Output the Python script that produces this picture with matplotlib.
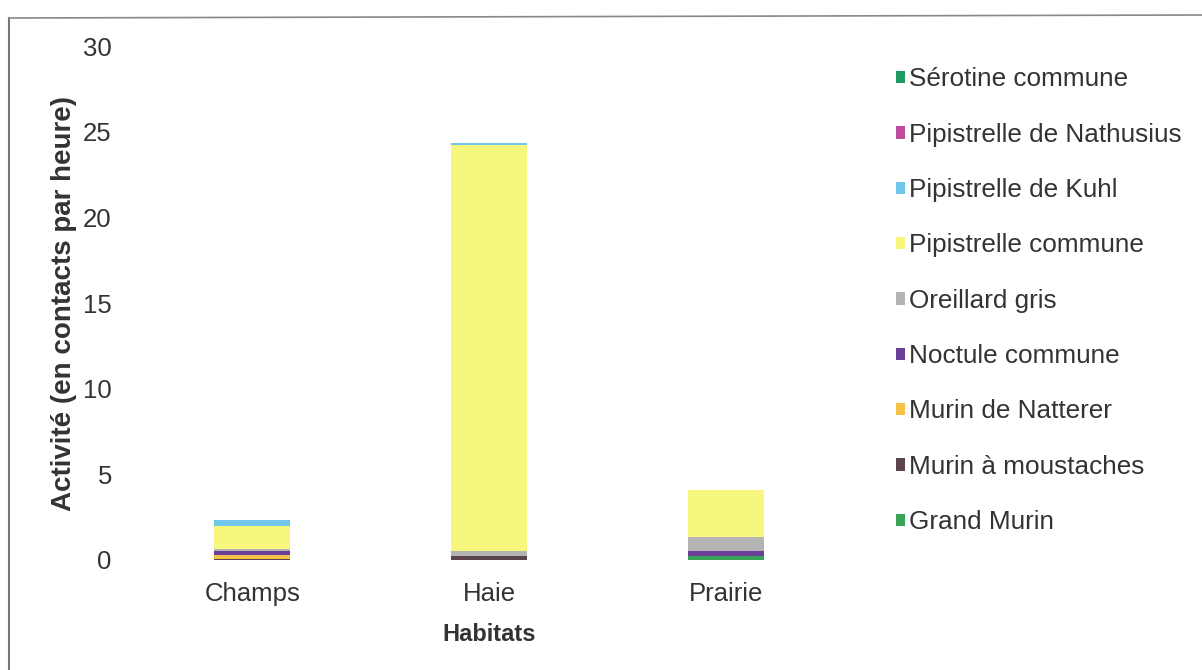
import matplotlib.pyplot as plt
from matplotlib.lines import Line2D
import numpy as np

plt.rcParams['font.family'] = ['Liberation Sans', 'DejaVu Sans']

habitats = ['Champs', 'Haie', 'Prairie']

# stacked from the bottom up
especes = ['Grand Murin', 'Murin à moustaches', 'Murin de Natterer',
           'Noctule commune', 'Oreillard gris', 'Pipistrelle commune',
           'Pipistrelle de Kuhl', 'Pipistrelle de Nathusius', 'Sérotine commune']

grand_murin = [0.0, 0.0, 0.25]
murin_moustaches = [0.05, 0.25, 0.0]
murin_natterer = [0.25, 0.0, 0.0]
noctule = [0.2, 0.0, 0.3]
oreillard = [0.15, 0.3, 0.82]
pip_commune = [1.35, 23.7, 2.73]
pip_kuhl = [0.32, 0.12, 0.0]
pip_nathusius = [0.0, 0.0, 0.0]
serotine = [0.0, 0.0, 0.0]

valeurs = [grand_murin, murin_moustaches, murin_natterer, noctule, oreillard,
           pip_commune, pip_kuhl, pip_nathusius, serotine]

couleurs = ['#3aa35a', '#5b4450', '#f4c247', '#6a3f98', '#b4b4b4',
            '#f6f77c', '#72c6ea', '#c04a9e', '#1e9a63']

fig = plt.figure(figsize=(12.02, 6.70), dpi=100)
ax = fig.add_axes([0.1115, 0.1642, 0.5907, 0.767])

x = np.arange(len(habitats))
bas = np.zeros(len(habitats))
barres = []
for nom, v, c in zip(especes, valeurs, couleurs):
    b = ax.bar(x, v, bottom=bas, width=0.32, color=c, label=nom, linewidth=0)
    barres.append(b)
    bas += np.array(v)

ax.set_xlim(-0.5, 2.5)
ax.set_ylim(0, 30)
ax.set_yticks([0, 5, 10, 15, 20, 25, 30])
ax.set_xticks(x)
ax.set_xticklabels(habitats)
ax.tick_params(axis='both', length=0, labelsize=18.5, colors='#333333')
ax.tick_params(axis='y', pad=16)
ax.tick_params(axis='x', pad=16)
for s in ax.spines.values():
    s.set_visible(False)

ax.set_xlabel('Habitats', fontsize=17, fontweight='bold', color='#333333', labelpad=12)
ax.set_ylabel('Activité (en contacts par heure)', fontsize=20, fontweight='bold',
              color='#333333', labelpad=4)

leg = ax.legend(barres[::-1], especes[::-1], loc='upper left',
                bbox_to_anchor=(0.737, 0.915), bbox_transform=fig.transFigure,
                frameon=False, fontsize=18.8, handlelength=0.35, handleheight=0.35,
                handletextpad=0.12, labelspacing=1.2, borderaxespad=0)
for t in leg.get_texts():
    t.set_color('#333333')

# cadre du graphique
fig.add_artist(Line2D([9 / 1202, 9 / 1202], [0, 1 - 18 / 670],
                      transform=fig.transFigure, color='#777777', lw=1.5))
fig.add_artist(Line2D([9 / 1202, 1], [1 - 18 / 670, 1 - 15 / 670],
                      transform=fig.transFigure, color='#888888', lw=1.2))

fig.savefig('out.png', dpi=100)
